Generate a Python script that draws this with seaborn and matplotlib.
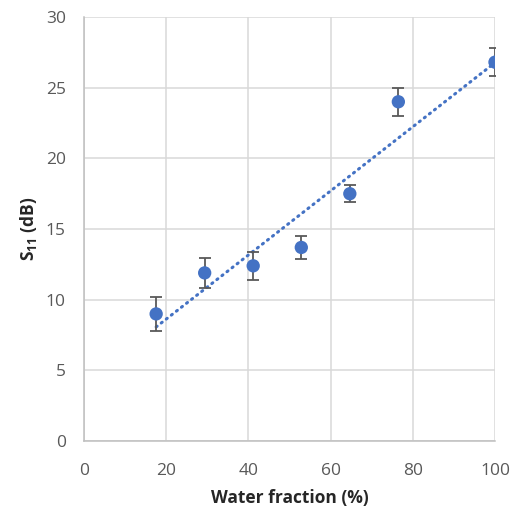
import numpy as np
import pandas as pd
import matplotlib
matplotlib.use("Agg")
import matplotlib.pyplot as plt
import seaborn as sns

# Measured return loss versus water fraction
water_fraction = [17.6, 29.4, 41.2, 52.9, 64.7, 76.5, 100.0]
s11_db = [9.0, 11.9, 12.4, 13.7, 17.5, 24.0, 26.8]
s11_err = [1.2, 1.05, 1.0, 0.8, 0.6, 1.0, 1.0]

x_ticks = [0, 20, 40, 60, 80, 100]
y_ticks = [0, 5, 10, 15, 20, 25, 30]

df = pd.DataFrame({"water": water_fraction, "s11": s11_db, "err": s11_err})

sns.set_style("white")
plt.rcParams["font.family"] = ["Open Sans", "DejaVu Sans"]
plt.rcParams["mathtext.fontset"] = "custom"
plt.rcParams["mathtext.rm"] = "Open Sans"
plt.rcParams["mathtext.bf"] = "Open Sans:bold"

blue = "#4472C4"
grid_c = "#d9d9d9"
tick_c = "#595959"

fig = plt.figure(figsize=(5.14, 5.13), dpi=100)
ax = fig.add_axes([0.163, 0.140, 0.800, 0.827])

ax.errorbar(df["water"], df["s11"], yerr=df["err"], fmt="none",
            ecolor="#595959", elinewidth=1.3, capsize=4.5, capthick=1.3, zorder=3)

sns.regplot(data=df, x="water", y="s11", ax=ax, ci=None, truncate=True,
            scatter_kws=dict(s=92, color=blue, edgecolor="none", zorder=4, alpha=1),
            line_kws=dict(color=blue, lw=2.2, linestyle=(0, (0.4, 1.7)),
                          dash_capstyle="round", zorder=2))

ax.set_xlim(0, 100)
ax.set_ylim(0, 30)
ax.set_xticks(x_ticks)
ax.set_yticks(y_ticks)
ax.grid(True, color=grid_c, lw=1.1)
ax.set_axisbelow(True)
for side in ["top", "right"]:
    ax.spines[side].set_visible(False)
for side in ["left", "bottom"]:
    ax.spines[side].set_color("#bfbfbf")
    ax.spines[side].set_linewidth(1.1)

ax.tick_params(axis="both", length=0, labelsize=12.5, labelcolor=tick_c)
ax.tick_params(axis="x", pad=16)
ax.tick_params(axis="y", pad=13)
ax.set_xlabel("Water fraction (%)", fontsize=12.5, fontweight="bold", color="#262626", labelpad=7)
ax.set_ylabel(r"$\mathbf{S_{11}}$ (dB)", fontsize=12.5, fontweight="bold", color="#262626", labelpad=5)

fig.savefig("out.png", dpi=100)
